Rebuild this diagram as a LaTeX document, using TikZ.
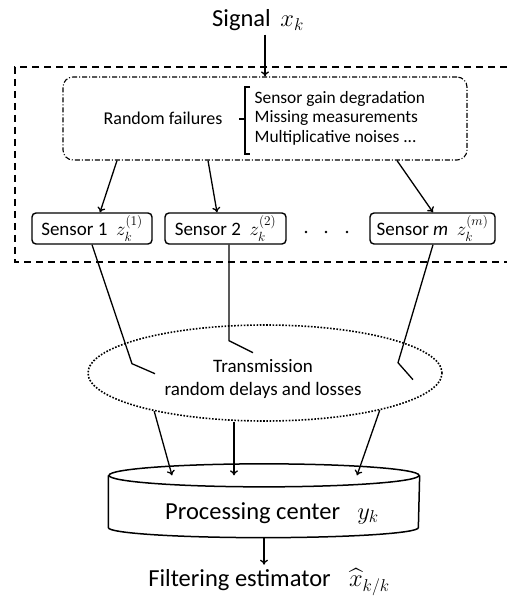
\RequirePackage{fix-cm}
\documentclass[tikz,border=0pt]{standalone}
\usepackage{amsmath}
\usepackage{fontspec}
\setmainfont{Carlito}
\usetikzlibrary{shapes.geometric,arrows.meta}

\begin{document}
\begin{tikzpicture}[x=1pt, y=-1pt, line width=1.3pt, >={To[length=5pt,width=8pt]},
    sensorbox/.style={draw, rounded corners=4pt, line width=1.4pt, minimum height=31pt, inner sep=2pt, font=\fontsize{19}{22}\selectfont},
    big/.style={font=\fontsize{24.5}{28}\selectfont}]
          \useasboundingbox (0,0) rectangle (507,601);
          \node [big] (signal) at (258, 20) {Signal\, $x_k$};
          \draw [dash pattern=on 7pt off 5pt, line width=1.4pt] (507,67) -- (15,67) -- (15,262) -- (507,262);
          \node [draw, rounded corners=10pt, line width=1.1pt, dash pattern=on 5pt off 2pt on 1pt off 2pt, minimum width=404pt, minimum height=83pt] (fail) at (265,118.5) {};
          \node [font=\fontsize{18}{21}\selectfont] (random) at (163,118) {Random failures};
          \draw [line width=1.5pt] (250,87) -- (245,87) -- (245,154) -- (250,154) (239,119) -- (245,119);
          \node [anchor=west, align=left, inner sep=0pt, font=\fontsize{17.4}{19.5}\selectfont] (kinds) at (254,118) {Sensor gain degradation\\ Missing measurements\\ Multiplicative noises ...};
          \draw [->] (signal.south -| fail.north) -- (fail.north);
          \node [sensorbox, minimum width=120pt] (s1) at (92,228.5) {Sensor 1~ $z_k^{(1)}$};
          \node [sensorbox, minimum width=121pt] (s2) at (225.5,228.5) {Sensor 2~ $z_k^{(2)}$};
          \node [sensorbox, minimum width=125pt] (sm) at (432.5,228.5) {Sensor \textit{m}~ $z_k^{(m)}$};
          \foreach \dx in {306,326,347} \fill (\dx,232) circle (1.4pt);
          \draw [->] ([xshift=-148pt]fail.south) -- ([xshift=8pt]s1.north);
          \draw [->] ([xshift=-57pt]fail.south) -- ([xshift=-8.5pt]s2.north);
          \draw [->] ([xshift=132pt]fail.south) -- ([xshift=0.5pt]sm.north);
          % into the channel
          \draw (s1.south) -- ++(40,119) -- ++(23,10);
          \draw ([xshift=3.5pt]s2.south) -- ++(0,96) -- ++(24,12);
          \draw ([xshift=0.5pt]sm.south) -- ++(-35,118) -- ++(15,17);
          \node [ellipse, draw, dash pattern=on 1.6pt off 1.6pt, line width=1.6pt, minimum width=354pt, minimum height=96pt] (trans) at (265,373) {};
          \node [align=center, font=\fontsize{19}{23}\selectfont] (translabel) at (263,378.5) {Transmission\\ random delays and losses};
          \node [minimum width=310pt, minimum height=51pt, inner sep=0pt] (proc) at (264,501.5) {};
          \draw [line width=1.5pt] (proc.north) ellipse [x radius=155pt, y radius=11.5pt];
          \draw [line width=1.5pt] (proc.north west) -- (proc.south west) arc [start angle=180, end angle=360, x radius=155pt, y radius=10pt] -- (proc.north east);
          \node [big] (proctext) at (272,513) {Processing center\hspace{0.7em}$y_k$};
          \draw [->] (trans.199) -- ([xshift=-92pt]proc.north);
          \draw [->] ([xshift=-31pt]trans.south) -- ([xshift=-30pt]proc.north);
          \draw [->] (trans.342) -- ([xshift=93pt]proc.north);
          \node [big] (filter) at (269,582) {Filtering estimator\hspace{0.75em}$\widehat{x}_{k/k}$};
          \draw [->] ([yshift=-10pt]proc.south) -- (proc.south |- filter.north);
        \end{tikzpicture}
\end{document}
